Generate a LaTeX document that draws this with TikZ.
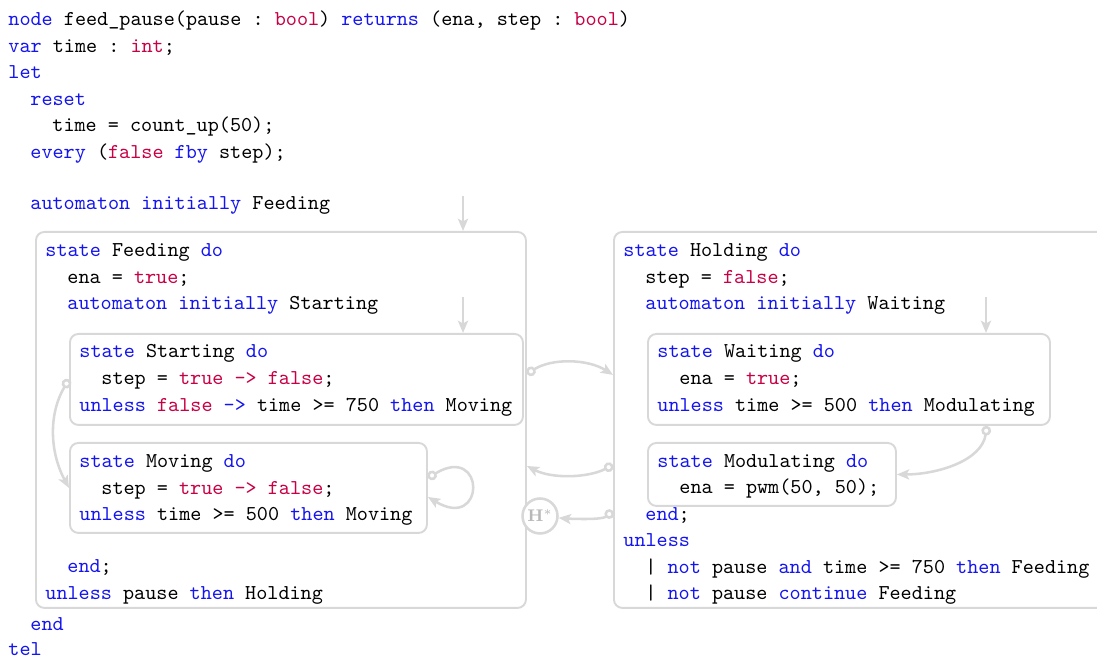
\documentclass[tikz,border=0pt]{standalone}
\usepackage{xcolor}
\usetikzlibrary{arrows.meta,calc}
\definecolor{kwblue}{RGB}{20,20,240}
\definecolor{cstred}{RGB}{200,0,70}
\definecolor{linegray}{RGB}{216,216,216}
\newcommand{\kw}[1]{\textcolor{kwblue}{#1}}
\newcommand{\cst}[1]{\textcolor{cstred}{#1}}

\begin{document}
\begin{tikzpicture}[x=0.473pt,y=0.473pt,yscale=-1,xscale=1,
  code/.style={anchor=base west,inner sep=0pt,font=\ttfamily\frenchspacing},
  statebox/.style={draw=linegray,line width=0.9pt,rounded corners=4pt,anchor=north west,inner sep=0pt},
  trans/.style={draw=linegray,line width=1.2pt,-{Stealth[length=5.8pt,width=4.8pt,inset=1.3pt]}},
  transc/.style={draw=linegray,line width=1.2pt,{Circle[fill=white,length=4.6pt]}-{Stealth[length=5.8pt,width=4.8pt,inset=1.3pt]}},
  hist/.style={circle,draw=linegray,line width=1.2pt,fill=white,inner sep=0pt,minimum size=35*0.473pt,text=black!28,font=\footnotesize\bfseries}]
\useasboundingbox (0,0) rectangle (1097,657);

%Shape: State Box [Feeding]
\node [statebox,minimum width=490*0.473pt,minimum height=376*0.473pt] (feeding) at (35,231) {};
%Shape: State Box [Starting]
\node [statebox,minimum width=453*0.473pt,minimum height=91*0.473pt] (starting) at (69,333) {};
%Shape: State Box [Moving]
\node [statebox,minimum width=357*0.473pt,minimum height=90*0.473pt] (moving) at (69,442) {};
%Shape: State Box [Holding]
\node [statebox,minimum width=510*0.473pt,minimum height=376*0.473pt] (holding) at (613,231) {};
%Shape: State Box [Waiting]
\node [statebox,minimum width=402*0.473pt,minimum height=91*0.473pt] (waiting) at (647,333) {};
%Shape: State Box [Modulating]
\node [statebox,minimum width=248*0.473pt,minimum height=63*0.473pt] (modulating) at (647,442) {};
%Shape: History
\node [hist] (hstar) at (540,516) {H$^{*}$};

%Straight Lines [initial]
\coordinate (initfeed) at (463,196);
\draw [trans] (initfeed) -- (initfeed |- feeding.north);
\coordinate (initstart) at (463,297);
\draw [trans] (initstart) -- (initstart |- starting.north);
\coordinate (initwait) at (986,297);
\draw [trans] (initwait) -- (initwait |- waiting.north);

%Curve Lines [transitions]
\draw [transc] (starting.west) .. controls +(-21,35) and +(-19,-35) .. (moving.west);
\draw [transc] ($(moving.east)+(0,-10)$) .. controls +(58,-35) and +(58,35) .. ($(moving.east)+(0,9)$);
\draw [transc] ($(feeding.east)+(0,-46)$) .. controls +(25,-16) and +(-25,-16) .. ($(holding.west)+(0,-45)$);
\draw [transc] ($(holding.west)+(0,45)$) .. controls +(-25,13) and +(25,13) .. ($(feeding.east)+(0,46)$);
\draw [transc] ($(holding.west)+(0,91)$) .. controls +(-12,10) and +(20,2) .. (hstar);
\draw [transc] ($(waiting.south east)+(-64,0)$) .. controls +(-5,35) and +(40,0) .. (modulating.east);

% Text Node
\draw (8,26) node (t1) [code] {\kw{node} feed\_pause(pause : \cst{bool}) \kw{returns} (ena, step : \cst{bool})};
% Text Node
\draw (8,52.5) node (t2) [code] {\kw{var} time : \cst{int};};
% Text Node
\draw (8,79) node (t3) [code] {\kw{let}};
% Text Node
\draw (30,105.5) node (t4) [code] {\kw{reset}};
% Text Node
\draw (52,132) node (t5) [code] {time = count\_up(50);};
% Text Node
\draw (30,158.5) node (t6) [code] {\kw{every} (\cst{false} \kw{fby} step);};
% Text Node
\draw (30,210) node (t7) [code] {\kw{automaton} \kw{initially} Feeding};
% Text Node
\draw (45,257) node (f1) [code] {\kw{state} Feeding \kw{do}};
% Text Node
\draw (67,284) node (f2) [code] {ena = \cst{true};};
% Text Node
\draw (67,310) node (f3) [code] {\kw{automaton} \kw{initially} Starting};
% Text Node
\draw (79,358) node (s1) [code] {\kw{state} Starting \kw{do}};
% Text Node
\draw (101,385) node (s2) [code] {step = \cst{true -> false};};
% Text Node
\draw (79,411.5) node (s3) [code] {\kw{unless} \cst{false} \kw{->} time >= 750 \kw{then} Moving};
% Text Node
\draw (79,468) node (m1) [code] {\kw{state} Moving \kw{do}};
% Text Node
\draw (101,494.5) node (m2) [code] {step = \cst{true -> false};};
% Text Node
\draw (79,521) node (m3) [code] {\kw{unless} time >= 500 \kw{then} Moving};
% Text Node
\draw (67,573) node (f4) [code] {\kw{end};};
% Text Node
\draw (45,599.5) node (f5) [code] {\kw{unless} pause \kw{then} Holding};
% Text Node
\draw (30,630.5) node (t8) [code] {\kw{end}};
% Text Node
\draw (8,656) node (t9) [code] {\kw{tel}};
% Text Node
\draw (623,257) node (h1) [code] {\kw{state} Holding \kw{do}};
% Text Node
\draw (645,284) node (h2) [code] {step = \cst{false};};
% Text Node
\draw (645,310) node (h3) [code] {\kw{automaton} \kw{initially} Waiting};
% Text Node
\draw (657,358) node (w1) [code] {\kw{state} Waiting \kw{do}};
% Text Node
\draw (679,385) node (w2) [code] {ena = \cst{true};};
% Text Node
\draw (657,411.5) node (w3) [code] {\kw{unless} time >= 500 \kw{then} Modulating};
% Text Node
\draw (657,467.5) node (d1) [code] {\kw{state} Modulating \kw{do}};
% Text Node
\draw (679,494) node (d2) [code] {ena = pwm(50, 50);};
% Text Node
\draw (645,520.5) node (h4) [code] {\kw{end};};
% Text Node
\draw (623,547) node (h5) [code] {\kw{unless}};
% Text Node
\draw (645,573.5) node (h6) [code] {| \kw{not} pause \kw{and} time >= 750 \kw{then} Feeding};
% Text Node
\draw (645,599.5) node (h7) [code] {| \kw{not} pause \kw{continue} Feeding};

\end{tikzpicture}
\end{document}
